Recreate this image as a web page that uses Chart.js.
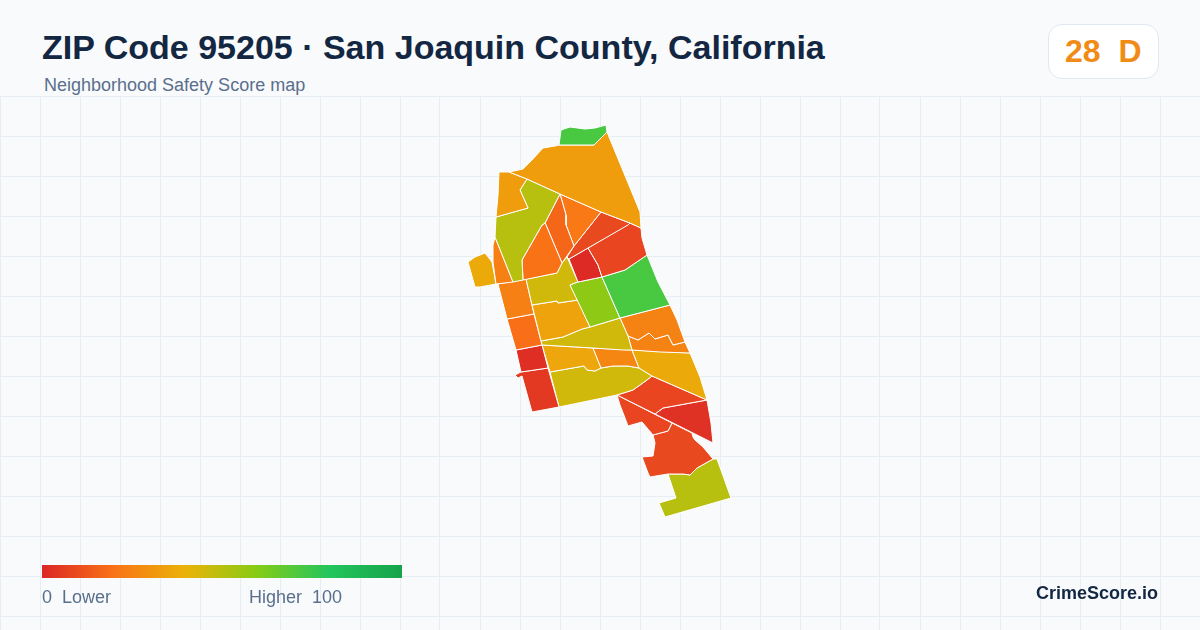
<!DOCTYPE html>
<html>
<head>
<meta charset="utf-8">
<title>ZIP Code 95205</title>
<script src="https://cdn.jsdelivr.net/npm/chart.js@4"></script>
<style>
  html, body { margin: 0; padding: 0; background: #f8fafc; }
  #wrap { position: relative; width: 1200px; height: 630px; overflow: hidden; font-family: "Liberation Sans", Arial, sans-serif; }
  canvas { position: absolute; left: 0; top: 0; }
  #header { position: absolute; left: 0; top: 0; width: 1200px; height: 96px; background: #f8fafc; }
  .txt { position: absolute; white-space: pre; }
  #title { left: 42px; top: 27px; font-size: 34px; line-height: 40px; font-weight: 700; color: #132742; }
  #sub { left: 44px; top: 75px; font-size: 18px; line-height: 20px; color: #5a6f8c; }
  #badge { position: absolute; left: 1048px; top: 24px; width: 109px; height: 53px; background: #fff; border: 1px solid #e2e8f0; border-radius: 14px; }
  #score { left: 1065px; top: 33px; font-size: 32px; line-height: 36px; font-weight: 700; color: #f08c16; }
  #ramp { position: absolute; left: 42px; top: 565px; width: 360px; height: 13px;
    background: linear-gradient(90deg, #dc2626 0%, #f97316 20%, #eab308 40%, #84cc16 60%, #22c55e 80%, #16a34a 100%); }
  #low { left: 42px; top: 587px; font-size: 18px; line-height: 20px; color: #5a6f8c; }
  #high { left: 249px; top: 587px; font-size: 18px; line-height: 20px; color: #5a6f8c; }
  #brand { left: 1036px; top: 583px; font-size: 18px; line-height: 20px; font-weight: 700; color: #132742; }
</style>
</head>
<body>
<div id="wrap">
  <canvas id="mapChart" width="1200" height="630"></canvas>
  <div id="header"></div>
  <div class="txt" id="title">ZIP Code 95205 · San Joaquin County, California</div>
  <div class="txt" id="sub">Neighborhood Safety Score map</div>
  <div id="badge"></div>
  <div class="txt" id="score">28  D</div>
  <div id="ramp"></div>
  <div class="txt" id="low">0  Lower</div>
  <div class="txt" id="high">Higher  100</div>
  <div class="txt" id="brand">CrimeScore.io</div>
</div>
<script>
// score ramp, same stops as the legend bar
const rampStops = [0, 20, 40, 60, 80, 100];
const rampColors = [[220, 38, 38], [249, 115, 22], [234, 179, 8], [132, 204, 22], [34, 197, 94], [22, 163, 74]];

// tract outlines in map units
const northTip = [[559,145],[561,130],[570,127],[585,129],[595,128],[606,125],[607,132],[594,145],[577,145]];
const northBig = [[509,172],[523,169],[532,160],[543,148],[555,146],[559,145],[577,145],[594,145],[607,132],[640,212],[641,228],[630,223],[601,212],[560,194],[527,179]];
const northWest = [[499,172],[509,172],[527,179],[520,190],[528,208],[496,217],[498,195]];
const westOlive = [[527,179],[560,194],[545,223],[542,225],[522,260],[523,280],[513,282],[495,237],[496,217],[528,208],[520,190]];
const westSliver = [[495,237],[513,282],[496,284],[493,262],[493,245]];
const westIsland = [[468,262],[475,257],[485,253],[492,262],[496,284],[480,287],[475,287]];
const midOrangeA = [[545,223],[546,225],[562,263],[557,273],[523,280],[522,260],[542,225]];
const midOrangeB = [[560,194],[566,215],[566,225],[574,246],[562,263],[546,225],[545,223]];
const midOrangeC = [[560,194],[601,212],[574,246],[566,225],[566,215]];
const midRedA = [[601,212],[630,223],[628,225],[569,259],[567,257],[574,246]];
const midRedB = [[630,223],[641,228],[642,238],[647,255],[625,270],[602,277],[598,265],[588,248]];
const midRedC = [[588,248],[598,265],[602,277],[578,282],[569,259]];
const eastGreen = [[647,255],[658,282],[670,305],[620,318],[602,277],[625,270]];
const midLime = [[602,277],[620,318],[590,327],[570,285],[578,282]];
const midYellow = [[567,257],[578,282],[570,285],[578,300],[558,303],[557,301],[532,305],[526,279],[557,273],[562,263]];
const midAmber = [[532,305],[557,301],[558,303],[578,300],[590,327],[582,329],[563,337],[541,341]];
const leftOrangeA = [[498,284],[526,279],[534,314],[507,319]];
const leftOrangeB = [[507,319],[534,314],[542,345],[516,350]];
const leftRedA = [[516,350],[542,345],[548,368],[521,372]];
const leftRedB = [[515,375],[521,372],[548,368],[559,407],[532,412],[522,376],[518,378]];
const centerBand = [[541,341],[563,337],[582,329],[590,327],[620,318],[628,336],[632,350],[623,350],[593,348],[542,345]];
const eastOrangeA = [[620,318],[670,305],[677,320],[685,342],[673,345],[668,335],[655,339],[649,333],[638,340],[628,336]];
const eastOrangeB = [[628,336],[638,340],[649,333],[655,339],[668,335],[673,345],[685,342],[690,353],[660,352],[632,350]];
const eastAmber = [[632,350],[690,353],[700,377],[707,400],[652,376],[639,368]];
const lowOrange = [[593,348],[632,350],[639,368],[628,366],[613,366],[601,368]];
const lowAmber = [[542,345],[593,348],[601,368],[595,371],[587,370],[584,366],[550,372]];
const lowYellow = [[550,372],[584,366],[587,370],[595,371],[601,368],[613,366],[628,366],[639,368],[652,376],[647,380],[633,390],[617,395],[559,407]];
const southRedA = [[652,376],[707,400],[663,408],[655,414],[617,395],[633,390],[647,380]];
const southRedB = [[707,400],[711,423],[713,443],[655,414],[663,408]];
const southRedC = [[617,395],[672,423],[668,431],[653,435],[642,422],[628,426],[625,418],[620,405]];
const southRedD = [[672,423],[692,433],[693,437],[695,440],[703,447],[713,459],[697,468],[690,475],[683,474],[668,474],[650,477],[648,473],[642,457],[653,456],[655,443],[653,435],[668,431]];
const southOlive = [[713,459],[717,459],[731,498],[665,517],[659,503],[676,498],[668,474],[683,474],[690,475],[697,468]];

const tractOutlines = [northTip, northBig, northWest, westOlive, westSliver, westIsland, midOrangeA, midOrangeB, midOrangeC, midRedA, midRedB, midRedC, eastGreen, midLime, midYellow, midAmber, leftOrangeA, leftOrangeB, leftRedA, leftRedB, centerBand, eastOrangeA, eastOrangeB, eastAmber, lowOrange, lowAmber, lowYellow, southRedA, southRedB, southRedC, southRedD, southOlive];
const tractScores = [72, 33, 33, 50, 24, 37, 20, 17, 22, 9, 8, 1, 72, 58, 45, 35, 24, 19, 2, 5, 45, 25, 25, 37, 26, 36, 45, 8, 3, 8, 9, 50];

const gridCols = [0, 40, 80, 120, 160, 200, 240, 280, 320, 360, 400, 440, 480, 520, 560, 600, 640, 680, 720, 760, 800, 840, 880, 920, 960, 1000, 1040, 1080, 1120, 1160, 1200];
const gridRows = [96, 136, 176, 216, 256, 296, 336, 376, 416, 456, 496, 536, 576, 616];

function scoreColor(score) {
  let i = 0;
  while (i < rampStops.length - 2 && score > rampStops[i + 1]) i++;
  const t = (score - rampStops[i]) / (rampStops[i + 1] - rampStops[i]);
  const c = rampColors[i].map((v, k) => Math.round(v + (rampColors[i + 1][k] - v) * t));
  return `rgb(${c[0]},${c[1]},${c[2]})`;
}

const datasets = tractOutlines.map((outline, i) => {
  const pts = outline.map(p => ({ x: p[0], y: p[1] }));
  pts.push({ x: outline[0][0], y: outline[0][1] });
  return {
    data: pts,
    showLine: true,
    fill: "shape",
    backgroundColor: scoreColor(tractScores[i]),
    borderColor: "#ffffff",
    borderWidth: 1,
    borderJoinStyle: "round",
    pointRadius: 0,
    tension: 0
  };
});

function gridScale(min, max, values, reverse) {
  return {
    type: "linear",
    min: min,
    max: max,
    reverse: reverse,
    afterBuildTicks: (axis) => { axis.ticks = values.map(v => ({ value: v })); },
    ticks: { display: false },
    border: { display: false },
    grid: { color: "#e7eef3", lineWidth: 1, drawTicks: false }
  };
}

new Chart(document.getElementById("mapChart"), {
  type: "scatter",
  data: { datasets: datasets },
  options: {
    responsive: false,
    animation: false,
    devicePixelRatio: 1,
    layout: { padding: 0 },
    plugins: { legend: { display: false }, tooltip: { enabled: false } },
    scales: {
      x: gridScale(0, 1200, gridCols, false),
      y: gridScale(0, 630, gridRows, true)
    }
  }
});
</script>
</body>
</html>
